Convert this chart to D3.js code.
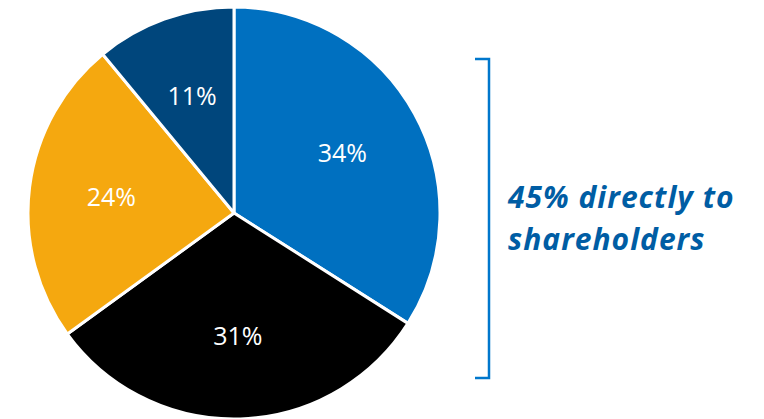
<!DOCTYPE html>
<html>
<head>
<meta charset="utf-8">
<script src="https://cdn.jsdelivr.net/npm/d3@7"></script>
<style>
  body { margin: 0; background: #fff; }
</style>
</head>
<body>
<svg id="chart" width="764" height="419"></svg>
<script>
// Slice data, clockwise from 12 o'clock
const categories = ["A", "B", "C", "D"];
const shares = [34, 31, 24, 11];
const sliceColors = ["#0070C0", "#000000", "#F5A80F", "#00467C"];
const note = ["45% directly to", "shareholders"];

const svg = d3.select("#chart");
const cx = 234, cy = 213, radius = 206;

const g = svg.append("g")
    .attr("transform", `translate(${cx},${cy})`);

const pie = d3.pie().sort(null).value(d => d.value);
const data = pie(categories.map((c, i) => ({ key: c, value: shares[i], color: sliceColors[i] })));

const arc = d3.arc().innerRadius(0).outerRadius(radius);
const labelArc = d3.arc().innerRadius(radius * 0.6).outerRadius(radius * 0.6);

// Slices
g.selectAll(".slice")
    .data(data)
    .enter().append("path")
    .attr("class", "slice")
    .attr("d", arc)
    .attr("fill", d => d.data.color)
    .attr("stroke", "#fff")
    .attr("stroke-width", 3)
    .attr("stroke-linejoin", "round");

// Percent labels
g.selectAll(".label")
    .data(data)
    .enter().append("text")
    .attr("class", "label")
    .attr("transform", d => `translate(${labelArc.centroid(d)})`)
    .attr("text-anchor", "middle")
    .attr("dy", "0.35em")
    .style("font-family", "'Open Sans', 'Liberation Sans', sans-serif")
    .style("font-size", "25px")
    .style("fill", "#fff")
    .text(d => d.data.value + "%");

// Bracket on the right
svg.append("path")
    .attr("d", "M475,59 H489 V378 H475")
    .attr("fill", "none")
    .attr("stroke", "#0077CC")
    .attr("stroke-width", 2.5);

// Note text
svg.append("text")
    .attr("x", 508)
    .attr("y", 0)
    .style("font-family", "'Open Sans', 'Liberation Sans', sans-serif")
    .style("font-size", "30px")
    .style("font-weight", "bold")
    .style("font-style", "italic")
    .style("letter-spacing", "1px")
    .style("fill", "#005DA4")
    .selectAll("tspan")
    .data(note)
    .enter().append("tspan")
    .attr("x", 508)
    .attr("y", (d, i) => 208 + i * 42)
    .text(d => d);
</script>
</body>
</html>
